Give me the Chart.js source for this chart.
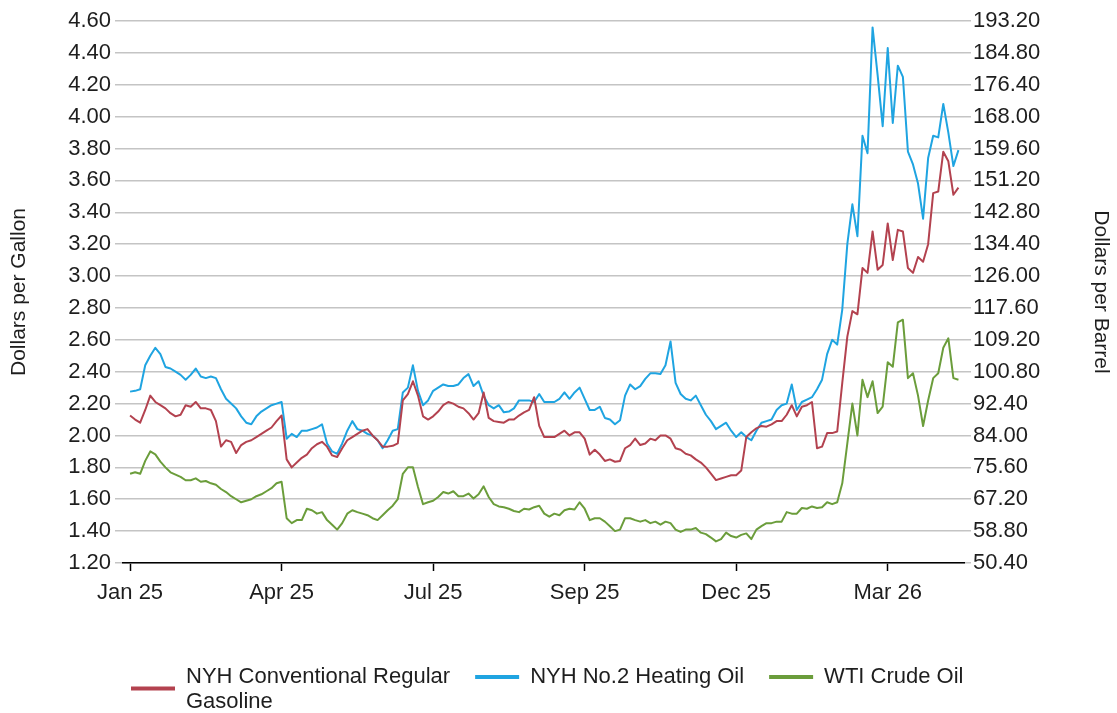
<!DOCTYPE html>
<html>
<head>
<meta charset="utf-8">
<title>NYH products and WTI crude</title>
<script src="https://cdn.jsdelivr.net/npm/chart.js@4.4.1/dist/chart.umd.min.js"></script>
<style>
  html, body { margin: 0; padding: 0; background: #fff; }
  #wrap { width: 1117px; height: 713px; }
</style>
</head>
<body>
<div id="wrap"><canvas id="chart" width="1117" height="713"></canvas></div>
<script>
// x ticks sit every 30 points (the series are sampled every other trading day)
const tickIndex = [0, 30, 60, 90, 120, 150]
const tickLabels = ['Jan 25', 'Apr 25', 'Jul 25', 'Sep 25', 'Dec 25', 'Mar 26']

const gallonTicks = [1.2, 1.4, 1.6, 1.8, 2.0, 2.2, 2.4, 2.6, 2.8, 3.0, 3.2, 3.4, 3.6, 3.8, 4.0, 4.2, 4.4, 4.6]
const barrelTicks = [50.4, 58.8, 67.2, 75.6, 84.0, 92.4, 100.8, 109.2, 117.6, 126.0, 134.4, 142.8, 151.2, 159.6, 168.0, 176.4, 184.8, 193.2]

const seriesNames = ['NYH Conventional Regular Gasoline', 'NYH No.2 Heating Oil', 'WTI Crude Oil']
const seriesColors = ['#b3424f', '#1fa4e1', '#6b9d3b']

// $/gal
const gasoline = [
  2.125, 2.10, 2.08, 2.16, 2.25, 2.21, 2.19, 2.17, 2.14, 2.12,
  2.13, 2.19, 2.18, 2.21, 2.17, 2.17, 2.16, 2.09, 1.93, 1.97,
  1.96, 1.89, 1.94, 1.96, 1.97, 1.99, 2.01, 2.03, 2.05, 2.09,
  2.125, 1.85, 1.80, 1.83, 1.86, 1.88, 1.92, 1.945, 1.96, 1.93,
  1.875, 1.865, 1.92, 1.97, 1.99, 2.01, 2.03, 2.04, 2.00, 1.97,
  1.93, 1.93, 1.935, 1.95, 2.22, 2.26, 2.34, 2.25, 2.12, 2.10,
  2.12, 2.15, 2.19, 2.21, 2.20, 2.18, 2.17, 2.14, 2.10, 2.14,
  2.27, 2.11, 2.09, 2.085, 2.08, 2.10, 2.10, 2.125, 2.145, 2.16,
  2.24, 2.06, 1.99, 1.99, 1.99, 2.01, 2.03, 2.00, 2.02, 2.02,
  1.98, 1.88, 1.91, 1.88, 1.84, 1.85, 1.835, 1.84, 1.92, 1.94,
  1.98, 1.94, 1.95, 1.98, 1.97, 2.00, 2.00, 1.98, 1.92, 1.91,
  1.885, 1.875, 1.85, 1.83, 1.80, 1.76, 1.72, 1.73, 1.74, 1.75,
  1.75, 1.78, 1.99, 2.02, 2.045, 2.06, 2.055, 2.07, 2.09, 2.09,
  2.13, 2.19, 2.12, 2.18, 2.19, 2.21, 1.92, 1.93, 2.015, 2.015,
  2.025, 2.33, 2.62, 2.78, 2.76, 3.05, 3.02, 3.28, 3.04, 3.07,
  3.33, 3.10, 3.29, 3.28, 3.05, 3.02, 3.12, 3.09, 3.20, 3.52,
  3.53, 3.78, 3.72, 3.51, 3.555
]

// $/gal
const heatingOil = [
  2.275, 2.28, 2.29, 2.44, 2.50, 2.55, 2.51, 2.43, 2.42, 2.40,
  2.38, 2.35, 2.38, 2.42, 2.37, 2.36, 2.37, 2.36, 2.29, 2.23,
  2.20, 2.17, 2.12, 2.08, 2.07, 2.12, 2.15, 2.17, 2.19, 2.20,
  2.21, 1.98, 2.01, 1.99, 2.03, 2.03, 2.04, 2.05, 2.07, 1.95,
  1.90, 1.885, 1.95, 2.03, 2.09, 2.04, 2.03, 2.01, 2.00, 1.97,
  1.92, 1.97, 2.03, 2.04, 2.27, 2.30, 2.44, 2.28, 2.19, 2.22,
  2.28, 2.30, 2.32, 2.31, 2.31, 2.32, 2.36, 2.385, 2.31, 2.34,
  2.25, 2.19, 2.17, 2.19, 2.145, 2.15, 2.17, 2.22, 2.22, 2.22,
  2.21, 2.26, 2.21, 2.21, 2.21, 2.23, 2.27, 2.23, 2.27, 2.30,
  2.23, 2.16, 2.16, 2.18, 2.11, 2.10, 2.07, 2.095, 2.25, 2.32,
  2.29, 2.31, 2.355, 2.39, 2.39, 2.385, 2.44, 2.59, 2.33, 2.26,
  2.23, 2.22, 2.25, 2.19, 2.13, 2.09, 2.04, 2.06, 2.08, 2.03,
  1.99, 2.02, 1.99, 1.97, 2.03, 2.08, 2.09, 2.10, 2.16, 2.19,
  2.20, 2.32, 2.16, 2.21, 2.225, 2.24, 2.29, 2.35, 2.51, 2.60,
  2.57, 2.79, 3.20, 3.45, 3.25, 3.88, 3.77, 4.56, 4.26, 3.94,
  4.43, 3.96, 4.32, 4.25, 3.78, 3.70, 3.58, 3.36, 3.74, 3.88,
  3.87, 4.08, 3.90, 3.69, 3.79
]

// $/bbl, right axis
const wtiCrude = [
  73.9, 74.3, 73.9, 77.3, 79.8, 79.0, 77.1, 75.6, 74.3, 73.7,
  73.1, 72.2, 72.2, 72.7, 71.8, 72.0, 71.4, 71.0, 69.9, 69.1,
  68.0, 67.2, 66.4, 66.8, 67.2, 68.0, 68.5, 69.3, 70.1, 71.4,
  71.8, 62.2, 60.9, 61.7, 61.7, 64.7, 64.3, 63.4, 63.8, 61.7,
  60.5, 59.2, 60.9, 63.4, 64.3, 63.8, 63.4, 63.0, 62.2, 61.7,
  63.0, 64.3, 65.5, 67.2, 73.9, 75.6, 75.6, 70.4, 65.9, 66.4,
  66.8, 67.8, 69.1, 68.7, 69.3, 68.0, 68.0, 68.7, 67.4, 68.5,
  70.6, 67.8, 65.9, 65.3, 65.1, 64.7, 64.1, 63.8, 64.7, 64.5,
  65.1, 65.5, 63.4, 62.6, 63.4, 63.0, 64.3, 64.7, 64.5, 66.4,
  64.7, 61.7, 62.2, 62.2, 61.3, 60.1, 58.8, 59.2, 62.2, 62.2,
  61.7, 61.3, 61.7, 60.9, 61.3, 60.5, 61.3, 60.9, 59.2, 58.6,
  59.2, 59.2, 59.6, 58.4, 58.0, 57.1, 56.1, 56.7, 58.4, 57.5,
  57.1, 57.8, 58.2, 56.7, 59.2, 60.1, 60.9, 60.9, 61.3, 61.3,
  63.8, 63.4, 63.4, 64.9, 64.7, 65.3, 64.9, 65.1, 66.4, 65.9,
  66.4, 71.4, 81.9, 92.4, 84.0, 98.7, 94.1, 98.3, 89.9, 91.6,
  103.3, 102.1, 113.8, 114.5, 99.1, 100.4, 94.5, 86.5, 93.2, 99.1,
  100.4, 107.1, 109.6, 99.1, 98.7
]

const FONT = '"Liberation Sans", Arial, Helvetica, sans-serif'
const TEXT = '#1e1e1e'
const GRID = '#c4c4c4'

const toPoints = arr => arr.map((v, i) => ({ x: i, y: v }))

function wrapWords(ctx, text, maxWidth) {
  const words = text.split(' ')
  const lines = []
  let line = ''
  words.forEach(w => {
    const test = line ? line + ' ' + w : w
    if (line && ctx.measureText(test).width > maxWidth) {
      lines.push(line)
      line = w
    } else {
      line = test
    }
  })
  if (line) lines.push(line)
  return lines
}

// legend under the plot, with the gasoline label wrapped onto two lines
const bottomLegend = {
  id: 'bottomLegend',
  afterDraw(chart) {
    const ctx = chart.ctx
    ctx.save()
    ctx.font = '22px ' + FONT
    ctx.textBaseline = 'middle'
    let x = 131
    const y = 677
    const lineGap = 25
    chart.data.datasets.forEach(ds => {
      const lines = wrapWords(ctx, ds.label, 275)
      const mid = y + (lines.length - 1) * lineGap / 2 - (lines.length > 1 ? 1 : 0)
      ctx.strokeStyle = ds.borderColor
      ctx.lineWidth = 4
      ctx.beginPath()
      ctx.moveTo(x, mid)
      ctx.lineTo(x + 44, mid)
      ctx.stroke()
      ctx.fillStyle = TEXT
      let w = 0
      lines.forEach((ln, k) => {
        ctx.fillText(ln, x + 55, y + k * lineGap)
        w = Math.max(w, ctx.measureText(ln).width)
      })
      x += 55 + w + 25
    })
    ctx.restore()
  }
}

new Chart(document.getElementById('chart'), {
  type: 'line',
  data: {
    datasets: [
      { label: seriesNames[0], data: toPoints(gasoline), borderColor: seriesColors[0], yAxisID: 'y' },
      { label: seriesNames[1], data: toPoints(heatingOil), borderColor: seriesColors[1], yAxisID: 'y' },
      { label: seriesNames[2], data: toPoints(wtiCrude), borderColor: seriesColors[2], yAxisID: 'y1' }
    ]
  },
  options: {
    responsive: false,
    animation: false,
    devicePixelRatio: 1,
    layout: { padding: { top: 21, left: 0, right: 0, bottom: 0 } },
    elements: {
      point: { radius: 0 },
      line: { borderWidth: 2, tension: 0, borderJoinStyle: 'round' }
    },
    plugins: { legend: { display: false }, tooltip: { enabled: false } },
    scales: {
      x: {
        type: 'linear',
        min: -1.4,
        max: 165.1,
        afterBuildTicks: s => { s.ticks = tickIndex.map(v => ({ value: v })) },
        afterFit: s => { s.height = 150 },
        ticks: {
          autoSkip: false,
          maxRotation: 0,
          padding: 9,
          color: TEXT,
          font: { family: FONT, size: 22 },
          callback: (v, i) => tickLabels[i]
        },
        grid: { drawOnChartArea: false, color: '#000', tickLength: 8, tickWidth: 1.5 },
        border: { display: true, color: '#000', width: 1.5 }
      },
      y: {
        position: 'left',
        min: 1.2,
        max: 4.6,
        afterBuildTicks: s => { s.ticks = gallonTicks.map(v => ({ value: v })) },
        afterFit: s => { s.width = 123 },
        ticks: {
          padding: 4,
          color: TEXT,
          font: { family: FONT, size: 22 },
          callback: v => v.toFixed(2)
        },
        grid: { color: GRID, lineWidth: 1.5, tickLength: 8 },
        border: { display: false },
        title: {
          display: true,
          text: 'Dollars per Gallon',
          color: TEXT,
          font: { family: FONT, size: 21 },
          padding: { top: 7, bottom: 0 }
        }
      },
      y1: {
        position: 'right',
        min: 50.4,
        max: 193.2,
        afterBuildTicks: s => { s.ticks = barrelTicks.map(v => ({ value: v })) },
        afterFit: s => { s.width = 153 },
        ticks: {
          padding: 2,
          color: TEXT,
          font: { family: FONT, size: 22 },
          callback: v => v.toFixed(2)
        },
        grid: { drawOnChartArea: false, color: GRID, lineWidth: 1.5, tickLength: 7 },
        border: { display: false },
        title: {
          display: true,
          text: 'Dollars per Barrel',
          color: TEXT,
          font: { family: FONT, size: 21 },
          padding: { top: 4, bottom: 0 }
        }
      }
    }
  },
  plugins: [bottomLegend]
})
</script>
</body>
</html>
